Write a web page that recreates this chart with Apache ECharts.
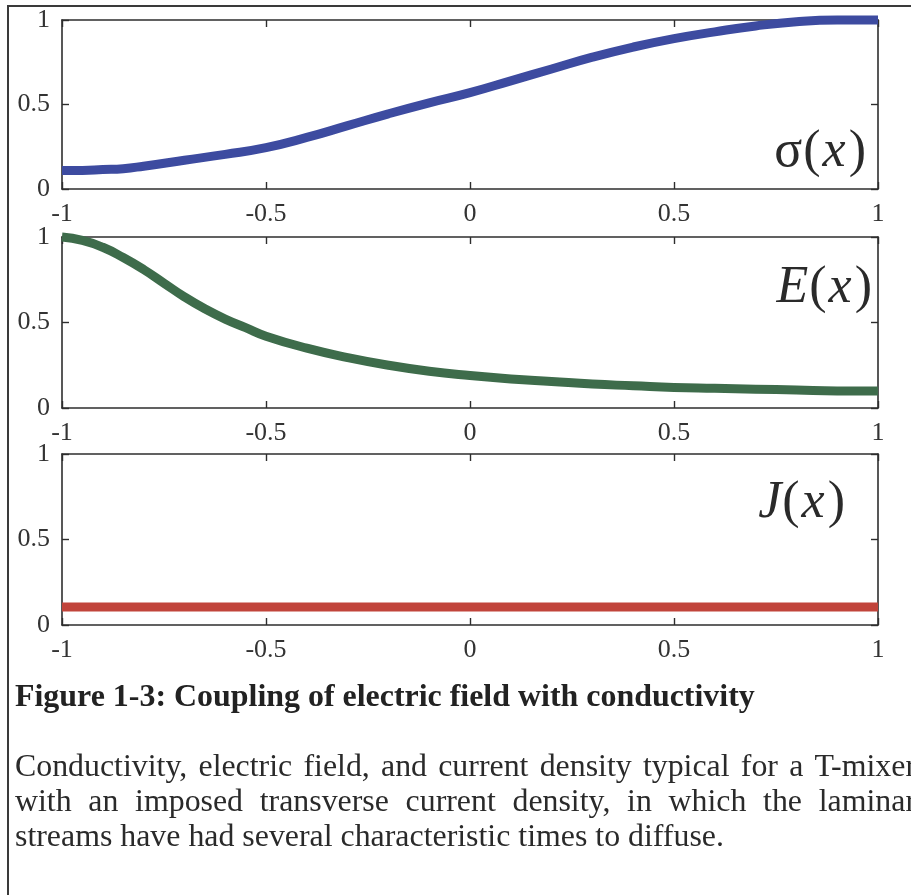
<!DOCTYPE html>
<html><head><meta charset="utf-8">
<script src="https://cdn.jsdelivr.net/npm/echarts@6/dist/echarts.min.js"></script>
<style>html,body{margin:0;padding:0;background:#fff}#c{width:911px;height:895px}</style>
</head><body><div id="c"></div>
<script>
// ---- data ----
const xTickLabels = ['-1', '-0.5', '0', '0.5', '1'];
const yTickLabels = ['0', '0.5', '1'];

const xSigma = [-1, -0.95, -0.9, -0.85, -0.8, -0.7, -0.6, -0.5, -0.4, -0.3, -0.2, -0.1, 0, 0.1, 0.2, 0.3, 0.4, 0.5, 0.6, 0.7, 0.8, 0.9, 1];
const sigma  = [0.11, 0.11, 0.115, 0.12, 0.135, 0.17, 0.205, 0.245, 0.305, 0.375, 0.445, 0.51, 0.57, 0.64, 0.71, 0.78, 0.84, 0.89, 0.93, 0.965, 0.99, 1.0, 1.0];

const xE = [-1, -0.95, -0.9, -0.85, -0.8, -0.75, -0.7, -0.65, -0.6, -0.55, -0.5, -0.4, -0.3, -0.2, -0.1, 0, 0.1, 0.2, 0.3, 0.4, 0.5, 0.6, 0.7, 0.8, 0.9, 1];
const eField = [1.0, 0.98, 0.94, 0.88, 0.81, 0.73, 0.65, 0.58, 0.52, 0.47, 0.42, 0.35, 0.295, 0.25, 0.215, 0.19, 0.17, 0.155, 0.14, 0.13, 0.12, 0.115, 0.11, 0.105, 0.1, 0.1];

const xJ = [-1, -0.5, 0, 0.5, 1];
const jDensity = [0.105, 0.105, 0.105, 0.105, 0.105];

const panelSymbols = ['σ', 'E', 'J'];
const captionTitle = 'Figure 1-3: Coupling of electric field with conductivity';
const captionLines = [
  'Conductivity, electric field, and current density typical for a T-mixer',
  'with an imposed transverse current density, in which the laminar',
  'streams have had several characteristic times to diffuse.'
];

// ---- chart ----
const SERIF = '"Liberation Serif", "Times New Roman", serif';
const AX = '#2e2e2e';
const pairs = (xs, ys) => xs.map((x, i) => [x, ys[i]]);
const seriesData = [pairs(xSigma, sigma), pairs(xE, eField), pairs(xJ, jDensity)];
const colors = ['#3d4ba0', '#3e6c4b', '#c1443b'];
const grids = [{ top: 20, height: 169 }, { top: 237, height: 171 }, { top: 454, height: 171 }];

const grid = [], xAxis = [], yAxis = [], series = [];
grids.forEach((g, i) => {
  grid.push({ left: 62, width: 816, top: g.top, height: g.height, show: false });
  const base = {
    gridIndex: i, type: 'value', min: -1, max: 1, interval: 0.5,
    axisLine: { show: true, onZero: false, lineStyle: { color: AX, width: 1.6 } },
    axisTick: { show: true, inside: true, length: 7, lineStyle: { color: AX, width: 1.4 } },
    splitLine: { show: false }
  };
  xAxis.push(Object.assign({}, base, {
    position: 'bottom',
    axisLabel: { show: true, margin: 12, fontFamily: SERIF, fontSize: 26, color: '#333',
      formatter: (v) => xTickLabels[Math.round((v + 1) / 0.5)] }
  }));
  xAxis.push(Object.assign({}, base, { position: 'top', axisLabel: { show: false } }));
  const ybase = {
    gridIndex: i, type: 'value', min: 0, max: 1, interval: 0.5,
    axisLine: { show: true, onZero: false, lineStyle: { color: AX, width: 1.6 } },
    axisTick: { show: true, inside: true, length: 7, lineStyle: { color: AX, width: 1.4 } },
    splitLine: { show: false }
  };
  yAxis.push(Object.assign({}, ybase, {
    position: 'left',
    axisLabel: { show: true, margin: 12, fontFamily: SERIF, fontSize: 26, color: '#333',
      formatter: (v) => yTickLabels[Math.round(v / 0.5)] }
  }));
  yAxis.push(Object.assign({}, ybase, { position: 'right', axisLabel: { show: false } }));
  series.push({
    type: 'line', xAxisIndex: 2 * i, yAxisIndex: 2 * i, data: seriesData[i],
    showSymbol: false, smooth: 0.5, clip: false,
    lineStyle: { color: colors[i], width: 9, cap: 'butt' }, z: 3
  });
});

// ---- text layout (measured) ----
const cv = document.createElement('canvas').getContext('2d');
function mw(text, size, weight) {
  cv.font = (weight || 'normal') + ' ' + size + 'px "Liberation Serif"';
  return cv.measureText(text).width;
}
const graphic = [];
graphic.push({ type: 'rect', silent: true, z: 0, shape: { x: 8, y: 6, width: 1000, height: 1000 },
  style: { fill: 'none', stroke: '#3a3a3a', lineWidth: 2 } });

// panel symbols
const symPos = [{ x: 866, y: 152 }, { x: 872, y: 288 }, { x: 845, y: 503 }];
const symFont = 52;
panelSymbols.forEach((s, i) => {
  graphic.push({ type: 'text', z: 10, x: symPos[i].x, y: symPos[i].y,
    style: {
      text: '{s|' + s + '}{p|(}{i|x}{p|)}', textAlign: 'right', textVerticalAlign: 'middle',
      rich: {
        s: { fontFamily: SERIF, fontSize: symFont, fontStyle: i === 0 ? 'normal' : 'italic', fill: '#2a2a2a', padding: [0, 1, 0, 0] },
        p: { fontFamily: SERIF, fontSize: symFont, fill: '#2a2a2a' },
        i: { fontFamily: SERIF, fontSize: symFont, fontStyle: 'italic', fill: '#2a2a2a', padding: [0, 3, 0, 2] }
      }
    } });
});

// caption title (bold), fitted to width
const tb = 30 * 740 / mw(captionTitle, 30, 'bold');
graphic.push({ type: 'text', x: 15, y: 698, z: 10,
  style: { text: captionTitle, fontFamily: SERIF, fontWeight: 'bold', fontSize: tb, fill: '#222',
    textAlign: 'left', textVerticalAlign: 'middle' } });

// body text
const fb = 32 * 709 / mw(captionLines[2], 32);
const lineY = [768, 803, 838];
captionLines.forEach((line, li) => {
  if (li === 2) {
    graphic.push({ type: 'text', x: 15, y: lineY[li], z: 10,
      style: { text: line, fontFamily: SERIF, fontSize: fb, fill: '#2a2a2a', textAlign: 'left', textVerticalAlign: 'middle' } });
    return;
  }
  const words = line.split(' ');
  const ws = words.map(w => mw(w, fb));
  const total = ws.reduce((a, b) => a + b, 0);
  const gap = (901 - total) / (words.length - 1);
  let x = 15;
  words.forEach((w, k) => {
    graphic.push({ type: 'text', x: x, y: lineY[li], z: 10,
      style: { text: w, fontFamily: SERIF, fontSize: fb, fill: '#2a2a2a', textAlign: 'left', textVerticalAlign: 'middle' } });
    x += ws[k] + gap;
  });
});

const chart = echarts.init(document.getElementById('c'));
chart.setOption({ animation: false, backgroundColor: '#fff', grid, xAxis, yAxis, series, graphic });
</script>
</body></html>
